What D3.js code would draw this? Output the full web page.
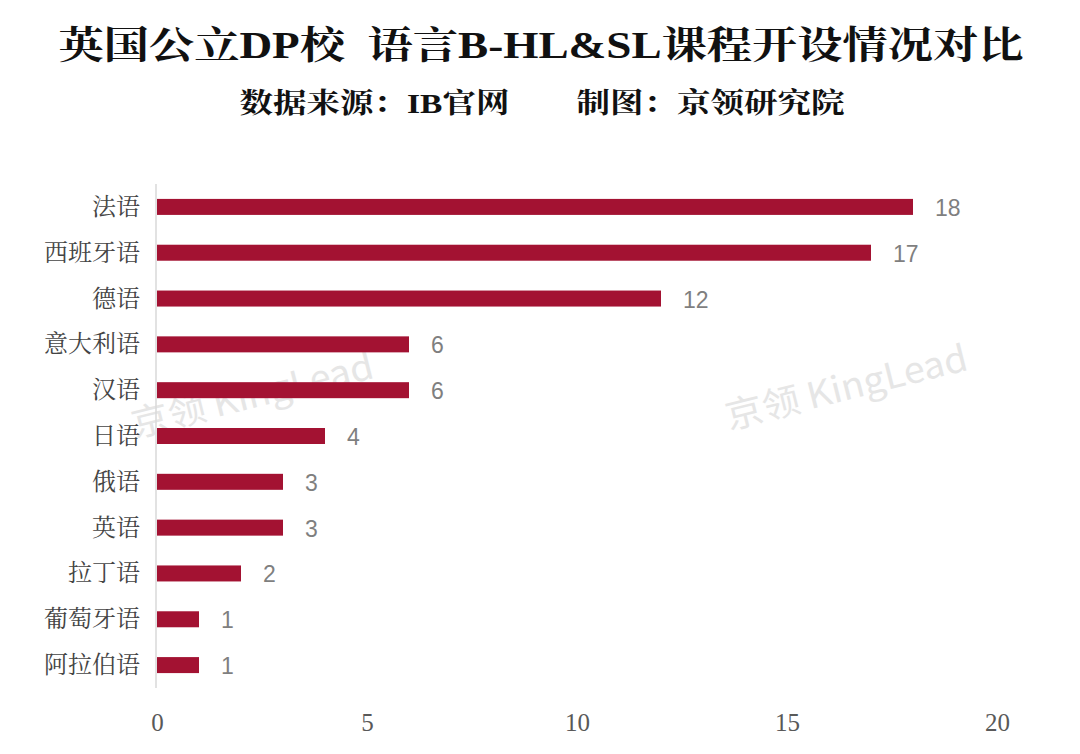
<!DOCTYPE html>
<html><head><meta charset="utf-8">
<script src="https://cdn.jsdelivr.net/npm/d3@7"></script>
<style>body{margin:0;background:#fff}</style>
</head><body><svg id="c" width="1080" height="754"></svg>
<script>
const categories = ["法语","西班牙语","德语","意大利语","汉语","日语","俄语","英语","拉丁语","葡萄牙语","阿拉伯语"];
const values = [18,17,12,6,6,4,3,3,2,1,1];
const xTicks = [0,5,10,15,20];
const titleText = "英国公立DP校\u2002语言B-HL&SL课程开设情况对比";
const subtitleText = "数据来源：IB官网\u3000\u3000制图：京领研究院";
const watermark = "京领 KingLead";

const svg = d3.select("#c");
const serif = "'Liberation Serif','Noto Serif CJK SC','Noto Sans CJK SC',serif";
const sans = "'Liberation Sans','Noto Sans CJK SC',sans-serif";

// watermarks
[[253,398],[847,390]].forEach(([x,y])=>{
  svg.append("text").attr("x",x).attr("y",y).attr("text-anchor","middle")
    .attr("dominant-baseline","middle")
    .attr("transform",`rotate(-14 ${x} ${y})`)
    .attr("font-family","'Noto Sans CJK SC',sans-serif").attr("font-size",36)
    .attr("fill","#e6e6e6").attr("textLength",248).attr("lengthAdjust","spacingAndGlyphs").text(watermark);
});

svg.append("text").attr("x",541).attr("y",58).attr("text-anchor","middle")
  .attr("font-family",serif).attr("font-weight","bold").attr("font-size",38)
  .attr("fill","#111").attr("textLength",965).attr("lengthAdjust","spacingAndGlyphs").text(titleText);
svg.append("text").attr("x",542).attr("y",113).attr("text-anchor","middle")
  .attr("font-family",serif).attr("font-weight","bold").attr("font-size",28)
  .attr("fill","#111").attr("textLength",605).attr("lengthAdjust","spacingAndGlyphs").text(subtitleText);

const x = d3.scaleLinear().domain([0,20]).range([157,997]);
const y = d3.scaleBand().domain(categories).range([184,688]).paddingInner(0.65).paddingOuter(0.325);

const bh = 16;
svg.append("g").selectAll("rect").data(values).join("rect")
  .attr("x",x(0)).attr("y",(d,i)=>y(categories[i])+y.bandwidth()/2-bh/2)
  .attr("width",d=>x(d)-x(0)).attr("height",bh).attr("fill","#a31232");

svg.append("line").attr("x1",156).attr("x2",156).attr("y1",184).attr("y2",688)
  .attr("stroke","#d9d9d9").attr("stroke-width",1.5);

svg.append("g").selectAll("text").data(categories).join("text")
  .attr("x",140).attr("y",d=>y(d)+y.bandwidth()/2).attr("text-anchor","end")
  .attr("dominant-baseline","central").attr("font-family",serif).attr("font-size",24)
  .attr("fill","#444").text(d=>d);

svg.append("g").selectAll("text").data(values).join("text")
  .attr("x",d=>x(d)+22).attr("y",(d,i)=>y(categories[i])+y.bandwidth()/2+1)
  .attr("dominant-baseline","central").attr("font-family",sans).attr("font-size",23)
  .attr("fill","#7f7f7f").text(d=>d);

const ax = d3.axisBottom(x).tickValues(xTicks).tickSize(0).tickPadding(0);
const g = svg.append("g").attr("transform","translate(0,722)").call(ax);
g.select(".domain").remove();
g.selectAll("text").attr("dy","0.35em").attr("font-family",serif).attr("font-size",25).attr("fill","#595959");
</script></body></html>
